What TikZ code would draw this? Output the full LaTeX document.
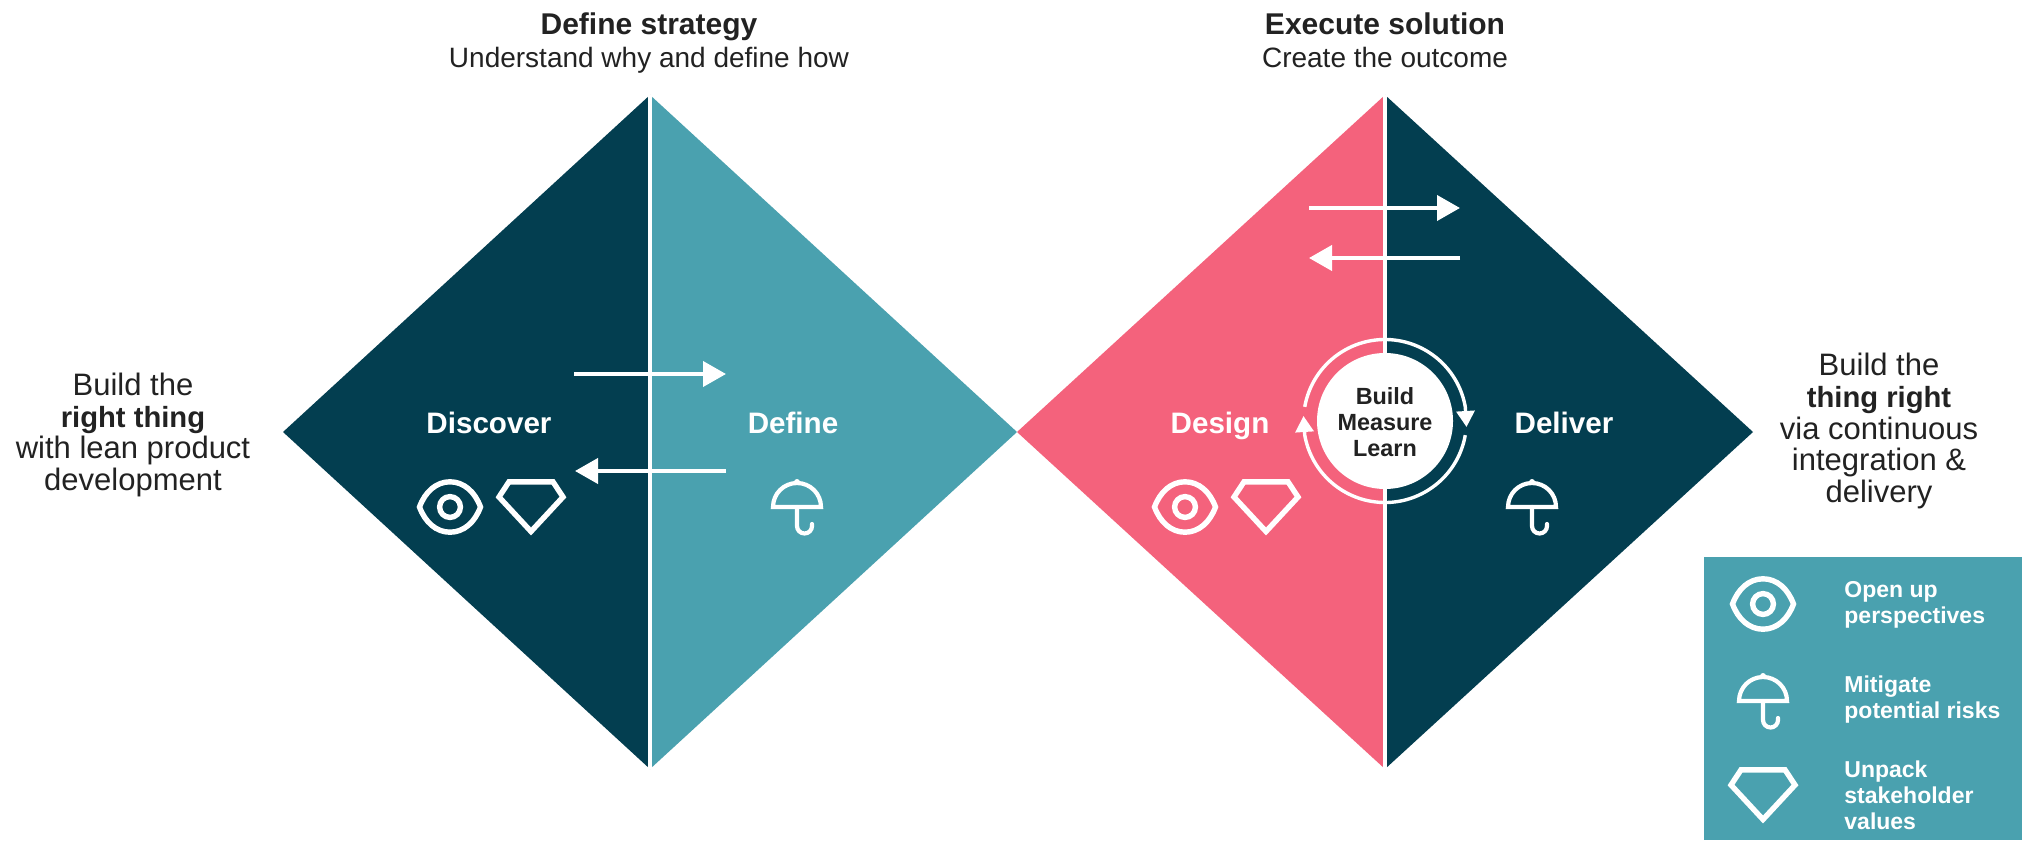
\documentclass[tikz,border=0pt]{standalone}
\usepackage{fontspec}
\setmainfont{Liberation Sans}
\usetikzlibrary{arrows.meta}
\definecolor{navy}{HTML}{033E50}
\definecolor{teal2}{HTML}{4AA1AF}
\definecolor{pinkish}{HTML}{F4627C}
\definecolor{ink}{HTML}{222222}
\tikzset{
  px/.style={x=0.5pt,y=-0.5pt},
  lbl/.style={inner sep=0pt,anchor=base,font=\fontsize{14}{14}\selectfont,text=ink},
  headline/.style={inner sep=0pt,anchor=base,font=\fontsize{15}{15}\selectfont\bfseries,text=ink},
  note/.style={inner sep=0pt,font=\fontsize{15.5}{15.8}\selectfont,text=ink,align=center},
  phase/.style={inner sep=0pt,anchor=base,font=\fontsize{14.8}{15}\selectfont\bfseries,text=white},
  legendtext/.style={inner sep=0pt,font=\fontsize{11.5}{13}\selectfont\bfseries,text=white,align=left,anchor=west},
  hub/.style={inner sep=0pt,font=\fontsize{11.7}{13}\selectfont\bfseries,text=ink,align=center},
  iconline/.style={draw=white,line width=2.7pt,fill=none,line join=miter},
  thinicon/.style={draw=white,line width=2.1pt,fill=none,line join=miter},
  flow/.style={draw=white,line width=2pt,-{Triangle[length=11.5pt,width=12.5pt]}},
  cycle arrow/.style={draw=white,line width=1.7pt,-{Triangle[length=8pt,width=9pt]}},
  divider/.style={draw=white,line width=2pt},
  eyeicon/.pic={
    \draw[iconline] (-30.5,0) .. controls (-25,-15) and (-14,-25.2) .. (0,-25.2) .. controls (14,-25.2) and (25,-15) .. (30.5,0)
      .. controls (25,15) and (14,25.2) .. (0,25.2) .. controls (-14,25.2) and (-25,15) .. (-30.5,0) -- cycle;
    \draw[iconline] (0,0) circle[radius=10.4];
  },
  gemicon/.pic={
    \draw[iconline] (-22,-25.2) -- (22,-25.2) -- (32,-10) -- (0,24.5) -- (-32,-10) -- cycle;
  },
  umbrellaicon/.pic={
    \draw[thinicon] (-24,0) arc[start angle=180,end angle=360,radius=24] -- cycle;
    \fill[white] (0,-25) circle[radius=3];
    \draw[thinicon,line cap=round] (0,0) -- (0,19) arc[start angle=180,end angle=0,radius=7.5] -- (15,17);
  },
}
\begin{document}
\begin{tikzpicture}[px]
\useasboundingbox (0,0) rectangle (2022,840);
\fill[white] (0,0) rectangle (2022,840);
% diamonds
\fill[navy] (283,432) -- (650,95) -- (650,769) -- cycle;
\fill[teal2] (650,95) -- (1017,432) -- (650,769) -- cycle;
\fill[pinkish] (1017,432) -- (1385,95) -- (1385,769) -- cycle;
\fill[navy] (1385,95) -- (1753,432) -- (1385,769) -- cycle;
\coordinate (d1t) at (650,95); \coordinate (d1b) at (650,769);
\coordinate (d2t) at (1385,95); \coordinate (d2b) at (1385,769);
\draw[divider] (d1t) -- (d1b);
\draw[divider] (d2t) -- (d2b);
% titles
\node[headline] (t1) at (649,35) {Define strategy};
\node[lbl] (s1) at (649,68) {Understand why and define how};
\node[headline] (t2) at (1385,35) {Execute solution};
\node[lbl] (s2) at (1385,68) {Create the outcome};
% side texts
\node[note] (leftnote) at (133,435) {Build the\\{\fontsize{14.6}{15.8}\selectfont\bfseries right thing}\\with lean product\\development};
\node[note] (rightnote) at (1879,431) {Build the\\{\fontsize{14.6}{15.8}\selectfont\bfseries thing right}\\via continuous\\integration \&\\delivery};
% phases
\node[phase] (discover) at (489,433) {Discover};
\node[phase] (define) at (793,433) {Define};
\node[phase] (design) at (1220,433) {Design};
\node[phase] (deliver) at (1564,433) {Deliver};
% flow arrows
\coordinate (a1) at (574,374); \coordinate (a2) at (726,374);
\coordinate (b1) at (726,471); \coordinate (b2) at (575,471);
\coordinate (c1) at (1309,208); \coordinate (c2) at (1460,208);
\coordinate (e1) at (1460,258); \coordinate (e2) at (1309,258);
\draw[flow] (a1) -- (a2);
\draw[flow] (b1) -- (b2);
\draw[flow] (c1) -- (c2);
\draw[flow] (e1) -- (e2);
% hub
\node[circle,fill=white,minimum size=68pt,inner sep=0pt] (hubc) at (1385,421) {};
\node[hub] (hubt) at (1385,422) {Build\\Measure\\Learn};
\coordinate (ringL) at ([shift={(190:81.5)}]1385,421);
\coordinate (ringR) at ([shift={(10:81.5)}]1385,421);
\coordinate (tipR) at (1466.5,427);
\coordinate (tipL) at (1303.5,416);
\draw[cycle arrow] (ringL) arc[start angle=190,end angle=350,radius=81.5] -- (tipR);
\draw[cycle arrow] (ringR) arc[start angle=10,end angle=170,radius=81.5] -- (tipL);
% icons
\pic at (450,507) {eyeicon};
\pic at (531,507) {gemicon};
\pic at (797,507) {umbrellaicon};
\pic at (1185,507) {eyeicon};
\pic at (1266,507) {gemicon};
\pic at (1532,507) {umbrellaicon};
% legend
\fill[teal2] (1704,557) rectangle (2022,840);
\pic at (1763,604) {eyeicon};
\pic at (1763,701) {umbrellaicon};
\pic at (1763,795) {gemicon};
\node[legendtext] (l1) at (1844,605) {Open up\\perspectives};
\node[legendtext] (l2) at (1844,700) {Mitigate\\potential risks};
\node[legendtext] (l3) at (1844,795) {Unpack\\stakeholder\\values};
\end{tikzpicture}
\end{document}
